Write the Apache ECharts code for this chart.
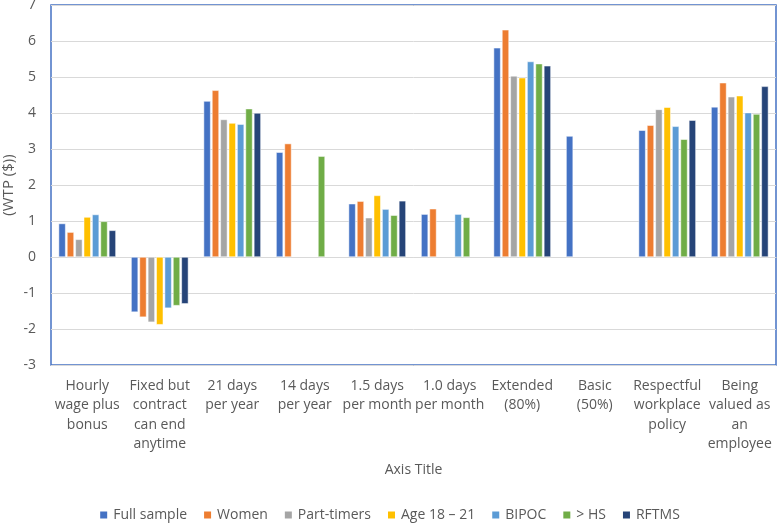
<!DOCTYPE html>
<html><head><meta charset="utf-8">
<script src="https://cdn.jsdelivr.net/npm/echarts@6/dist/echarts.min.js"></script>
<style>html,body{margin:0;padding:0;background:#fff}#c{width:778px;height:523px}</style>
</head><body><div id="c"></div>
<script>
const categories = ["Hourly\nwage plus\nbonus","Fixed but\ncontract\ncan end\nanytime","21 days\nper year","14 days\nper year","1.5 days\nper month","1.0 days\nper month","Extended\n(80%)","Basic\n(50%)","Respectful\nworkplace\npolicy","Being\nvalued as\nan\nemployee"];
const seriesNames = ["Full sample","Women","Part-timers","Age 18 – 21","BIPOC","> HS","RFTMS"];
const fullSample = [0.93,-1.53,4.33,2.91,1.48,1.19,5.81,3.36,3.52,4.17];
const women      = [0.69,-1.67,4.63,3.15,1.55,1.34,6.31,null,3.66,4.84];
const partTimers = [0.49,-1.81,3.82,null,1.09,null,5.03,null,4.10,4.45];
const age1821    = [1.11,-1.88,3.72,null,1.71,null,4.98,null,4.16,4.48];
const bipoc      = [1.18,-1.42,3.69,null,1.33,1.19,5.43,null,3.63,4.01];
const hs         = [0.99,-1.35,4.12,2.80,1.16,1.10,5.37,null,3.27,3.97];
const rftms      = [0.74,-1.30,4.00,null,1.56,null,5.31,null,3.80,4.74];
const yTicks = {min:-3,max:7,interval:1};
const colors = ["#4472C4","#ED7D31","#A5A5A5","#FFC000","#5B9BD5","#70AD47","#264478"];
const allData = [fullSample,women,partTimers,age1821,bipoc,hs,rftms];
const FONT = 'Open Sans, Noto Sans, sans-serif';

const chart = echarts.init(document.getElementById('c'));
chart.setOption({
  animation:false,
  color: colors,
  textStyle:{fontFamily:FONT},
  grid:{left:51,right:2,top:5,bottom:158,outerBoundsMode:'none',containLabel:false,
    show:true,borderColor:'#4472C4',borderWidth:1.5,backgroundColor:'transparent'},
  legend:{top:503,left:'center',itemWidth:9,itemHeight:9,itemGap:15,icon:'rect',
    textStyle:{color:'#595959',fontSize:14,fontFamily:FONT}},
  xAxis:{type:'category',data:categories,
    axisLine:{show:true,onZero:true,lineStyle:{color:'#D9D9D9',width:1}},
    axisTick:{show:false},
    axisLabel:{interval:0,color:'#595959',fontSize:14,lineHeight:19.5,margin:11,fontFamily:FONT},
    name:'Axis Title',nameLocation:'middle',nameGap:98,nameMoveOverlap:false,
    nameTextStyle:{color:'#595959',fontSize:14,fontFamily:FONT}},
  yAxis:{type:'value',min:yTicks.min,max:yTicks.max,interval:yTicks.interval,
    axisLine:{show:false},axisTick:{show:false},
    splitLine:{lineStyle:{color:'#D9D9D9',width:1}},
    axisLabel:{color:'#595959',fontSize:14,margin:15,fontFamily:FONT},
    name:'(WTP ($))',nameLocation:'middle',nameGap:35,nameRotate:90,nameMoveOverlap:false,
    nameTextStyle:{color:'#595959',fontSize:15,fontFamily:FONT}},
  series: seriesNames.map((n,i)=>({
    name:n,type:'bar',data:allData[i],
    barGap:'20%',barCategoryGap:'21%',
    itemStyle:{color:colors[i],borderColor:'#fff',borderWidth:0.5}
  }))
});
</script>
</body></html>
